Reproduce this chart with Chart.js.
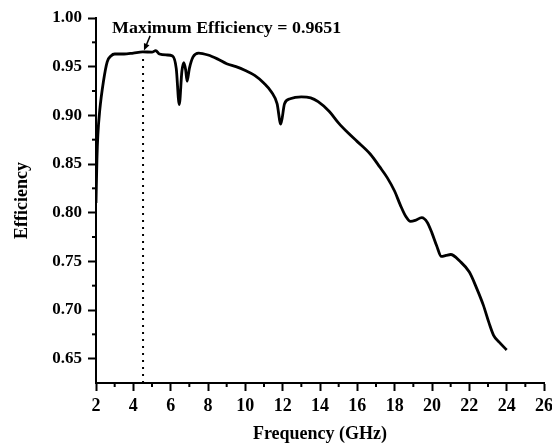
<!DOCTYPE html>
<html>
<head>
<meta charset="utf-8">
<script src="https://cdn.jsdelivr.net/npm/chart.js@4.4.0/dist/chart.umd.min.js"></script>
<style>
  body { margin: 0; background: #fff; }
</style>
</head>
<body>
<canvas id="chart" width="552" height="445"></canvas>
<script>
// efficiency curve
const freq = [2.0, 2.05, 2.1, 2.2, 2.4, 2.6, 2.8, 3.0, 3.5, 4.0, 4.5, 5.0, 5.2, 5.4, 5.8, 6.1, 6.3, 6.46, 6.6, 6.7, 6.8, 6.88, 7.0, 7.2, 7.5,
  8.0, 8.5, 9.0, 9.5, 10.0, 10.5, 11.0, 11.4, 11.7, 11.9, 12.1, 12.4, 13.0, 13.5, 13.9, 14.5, 15.0, 15.5, 16.0, 16.7,
  17.2, 17.6, 18.0, 18.3, 18.6, 18.85, 19.1, 19.45, 19.75, 20.0, 20.25, 20.5, 20.75, 21.0, 21.5, 22.0, 22.4, 22.75, 23.05, 23.3, 23.6, 24.0];
const eff = [0.81, 0.855, 0.88, 0.905, 0.935, 0.955, 0.961, 0.963, 0.963, 0.964, 0.9651, 0.965, 0.9665, 0.963, 0.962, 0.961, 0.948, 0.911, 0.945, 0.954, 0.947, 0.935, 0.948, 0.960, 0.964,
  0.962, 0.958, 0.953, 0.950, 0.946, 0.941, 0.933, 0.924, 0.912, 0.891, 0.912, 0.917, 0.919, 0.918, 0.914, 0.904, 0.892, 0.882, 0.873, 0.860,
  0.847, 0.836, 0.822, 0.808, 0.796, 0.791, 0.792, 0.795, 0.790, 0.779, 0.766, 0.755, 0.756, 0.757, 0.750, 0.739, 0.722, 0.705, 0.687, 0.674, 0.667, 0.659];

// axes
const xTicks = [2, 4, 6, 8, 10, 12, 14, 16, 18, 20, 22, 24, 26];
const xMinor = [3, 5, 7, 9, 11, 13, 15, 17, 19, 21, 23, 25];
const yTicks = [0.65, 0.70, 0.75, 0.80, 0.85, 0.90, 0.95, 1.00];
const yMinor = [0.675, 0.725, 0.775, 0.825, 0.875, 0.925, 0.975];
const xMin = 2, xMax = 26, yMin = 0.625, yMax = 1.0;

// maximum marker
const maxFreq = 4.52;
const maxLineTop = 0.96;
const maxLabel = "Maximum Efficiency = 0.9651";
const labelAt = [2.86, 0.985];
const arrowFrom = [4.9, 0.9816];
const arrowTo = [4.57, 0.9665];

const serif = "'Liberation Serif', 'Times New Roman', serif";
const points = freq.map((f, i) => ({ x: f, y: eff[i] }));

//minor ticks + arrow + label
const extras = {
  id: "extras",
  afterDraw(chart) {
    const ctx = chart.ctx;
    const x = chart.scales.x;
    const y = chart.scales.y;
    ctx.save();
    ctx.strokeStyle = "#000";
    ctx.fillStyle = "#000";
    ctx.lineWidth = 2;
    xMinor.forEach((v) => {
      const px = x.getPixelForValue(v);
      ctx.beginPath();
      ctx.moveTo(px, x.top);
      ctx.lineTo(px, x.top + 4);
      ctx.stroke();
    });
    yMinor.forEach((v) => {
      const py = y.getPixelForValue(v);
      ctx.beginPath();
      ctx.moveTo(y.right, py);
      ctx.lineTo(y.right - 4, py);
      ctx.stroke();
    });

    // arrow
    const x1 = x.getPixelForValue(arrowFrom[0]), y1 = y.getPixelForValue(arrowFrom[1]);
    const x2 = x.getPixelForValue(arrowTo[0]), y2 = y.getPixelForValue(arrowTo[1]);
    const ang = Math.atan2(y2 - y1, x2 - x1);
    ctx.lineWidth = 1.5;
    ctx.beginPath();
    ctx.moveTo(x1, y1);
    ctx.lineTo(x2 - 4 * Math.cos(ang), y2 - 4 * Math.sin(ang));
    ctx.stroke();
    ctx.beginPath();
    ctx.moveTo(x2, y2);
    ctx.lineTo(x2 - 7 * Math.cos(ang) + 3 * Math.sin(ang), y2 - 7 * Math.sin(ang) - 3 * Math.cos(ang));
    ctx.lineTo(x2 - 7 * Math.cos(ang) - 3 * Math.sin(ang), y2 - 7 * Math.sin(ang) + 3 * Math.cos(ang));
    ctx.closePath();
    ctx.fill();

    // label, a bit wider like the original
    const lx = x.getPixelForValue(labelAt[0]), ly = y.getPixelForValue(labelAt[1]);
    ctx.translate(lx, ly);
    ctx.scale(1.12, 1);
    ctx.font = "bold 16px " + serif;
    ctx.textAlign = "left";
    ctx.textBaseline = "alphabetic";
    ctx.fillText(maxLabel, 0, 0);
    ctx.restore();
  },
};

const ctx = document.getElementById("chart").getContext("2d");
const myChart = new Chart(ctx, {
  type: "line",
  data: {
    datasets: [
      {
        label: "Efficiency",
        data: points,
        borderColor: "#000",
        borderWidth: 2.8,
        pointRadius: 0,
        fill: false,
        cubicInterpolationMode: "monotone",
      },
      {
        label: "max",
        data: [{ x: maxFreq, y: yMin }, { x: maxFreq, y: maxLineTop }],
        borderColor: "#000",
        borderWidth: 2,
        borderDash: [2, 5],
        pointRadius: 0,
        fill: false,
      },
    ],
  },
  options: {
    responsive: false,
    animation: false,
    layout: { padding: { top: 18, right: 8, left: 0, bottom: 0 } },
    plugins: { legend: { display: false }, tooltip: { enabled: false } },
    scales: {
      x: {
        type: "linear",
        min: xMin,
        max: xMax,
        afterBuildTicks: (s) => { s.ticks = xTicks.map((v) => ({ value: v })); },
        afterFit: (s) => { s.height = 62; s.paddingLeft = 0; s.paddingRight = 0; },
        border: { display: true, color: "#000", width: 2 },
        grid: { drawOnChartArea: false, drawTicks: true, tickLength: 8, tickWidth: 2, tickColor: "#000" },
        ticks: { color: "#000", padding: 5, maxRotation: 0, font: { family: serif, size: 18, weight: "bold" } },
        title: { display: true, text: "Frequency (GHz)", color: "#000", padding: { top: 0, bottom: 0 }, font: { family: serif, size: 18, weight: "bold" } },
      },
      y: {
        type: "linear",
        min: yMin,
        max: yMax,
        afterBuildTicks: (s) => { s.ticks = yTicks.map((v) => ({ value: v })); },
        afterFit: (s) => { s.width = 96; s.paddingTop = 0; s.paddingBottom = 0; },
        border: { display: true, color: "#000", width: 2 },
        grid: { drawOnChartArea: false, drawTicks: true, tickLength: 8, tickWidth: 2, tickColor: "#000" },
        ticks: { color: "#000", padding: 6, callback: (v) => v.toFixed(2), font: { family: serif, size: 17, weight: "bold" } },
        title: { display: true, text: "Efficiency", color: "#000", padding: { top: 12, bottom: 0 }, font: { family: serif, size: 18, weight: "bold" } },
      },
    },
  },
  plugins: [extras],
});
</script>
</body>
</html>
